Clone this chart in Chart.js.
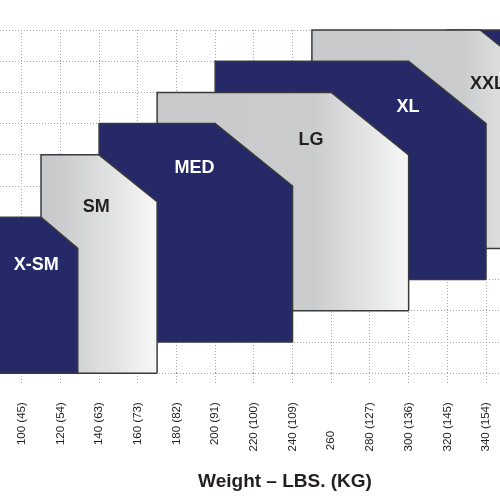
<!DOCTYPE html>
<html><head><meta charset="utf-8">
<script src="https://cdn.jsdelivr.net/npm/chart.js@4/dist/chart.umd.min.js"></script>
<style>
html,body{margin:0;padding:0;overflow:hidden;background:#fff;width:500px;height:500px}
#wrap{position:absolute;left:0;top:0;width:570px;height:500px}
</style>
</head><body><div id="wrap"><canvas id="c"></canvas></div>
<script>
// ---- data (x in lbs, y in chart row units) ----
const sizes = ['X-SM','SM','MED','LG','XL','XXL','XXXL'];
const leftLbs = [80,110,140,170,200,250,320];
const topUnits = [5,7,8,9,10,11,11];
const chamferStartLbs = [110,140,200,260,300,337,400];
const chamferEndUnits = [4,5.5,6,7,8,9,9];
const rightLbs = [129,170,240,300,340,377,420];
const bottomUnits = [0,0,1,2,3,4,5];
const labelLbs = [107.5,138.6,189.3,249.5,299.7,340.7,null];
const labelUnits = [3.47,5.33,6.57,7.48,8.52,9.27,null];
const tickLbs = [100,120,140,160,180,200,220,240,260,280,300,320,340];
const tickLabels = ['100 (45)','120 (54)','140 (63)','160 (73)','180 (82)','200 (91)','220 (100)','240 (109)','260','280 (127)','300 (136)','320 (145)','340 (154)'];
const axisTitle = 'Weight – LBS. (KG)';

const NAVY = '#262968', GRAY = '#c8c9cb', EDGE = '#3a3a3c', GRID = '#a4a4a4';
const FONT = '"Liberation Sans", Arial, Helvetica, sans-serif';

function grayFill(i){
  return (c) => {
    const ch = c.chart, xs = ch.scales && ch.scales.x;
    if (!xs || !ch.chartArea) return GRAY;
    const x0 = xs.getPixelForValue(leftLbs[i]), x1 = xs.getPixelForValue(rightLbs[i]);
    const g = ch.ctx.createLinearGradient(x0, 0, x1, 0);
    g.addColorStop(0, GRAY);
    g.addColorStop(Math.max(0, 1 - 95 / (x1 - x0)), '#cbcccd');
    g.addColorStop(1, '#f7f7f7');
    return g;
  };
}

const datasets = [];
sizes.forEach((s, i) => {
  // bottom edge (drawn just after its shape)
  datasets.push({
    label: s + ' edge',
    data: [{x: leftLbs[i], y: bottomUnits[i]}, {x: rightLbs[i], y: bottomUnits[i]}],
    showLine: true, pointRadius: 0, borderColor: EDGE, borderWidth: 1.5, fill: false, clip: 4
  });
  datasets.push({
    label: s,
    data: [
      {x: leftLbs[i], y: bottomUnits[i]},
      {x: leftLbs[i], y: topUnits[i]},
      {x: chamferStartLbs[i], y: topUnits[i]},
      {x: rightLbs[i], y: chamferEndUnits[i]},
      {x: rightLbs[i], y: bottomUnits[i]}
    ],
    showLine: true, pointRadius: 0, tension: 0,
    borderColor: EDGE, borderWidth: 1.5,
    fill: {value: bottomUnits[i]},
    backgroundColor: i % 2 === 0 ? NAVY : grayFill(i),
    clip: 4
  });
});

const sizeLabels = {
  id: 'sizeLabels',
  afterDatasetsDraw(chart) {
    const {ctx, scales: {x, y}} = chart;
    ctx.save();
    ctx.font = 'bold 18px ' + FONT;
    ctx.textAlign = 'center';
    ctx.textBaseline = 'middle';
    sizes.forEach((s, i) => {
      if (labelLbs[i] == null) return;
      ctx.fillStyle = i % 2 === 0 ? '#ffffff' : '#231f20';
      ctx.fillText(s, x.getPixelForValue(labelLbs[i]), y.getPixelForValue(labelUnits[i]));
    });
    ctx.restore();
  }
};

new Chart(document.getElementById('c'), {
  type: 'scatter',
  data: {datasets},
  plugins: [sizeLabels],
  options: {
    responsive: true, maintainAspectRatio: false, animation: false, devicePixelRatio: 1,
    layout: {padding: {top: 30, left: 0, right: 0, bottom: 0}},
    plugins: {legend: {display: false}, tooltip: {enabled: false}},
    scales: {
      x: {
        type: 'linear', min: 88.8, max: 383.4,
        afterBuildTicks: (s) => { s.ticks = tickLbs.map(v => ({value: v})); },
        afterFit: (s) => { s.height = 126.8; },
        ticks: {
          autoSkip: false, minRotation: 90, maxRotation: 90, padding: 19,
          color: '#1e1e1e', font: {family: FONT, size: 11.5},
          callback: (v) => {
            const l = tickLabels[tickLbs.indexOf(v)];
            return l.includes('(') ? l : l + '\u2007\u2007\u2007\u2007 ';
          }
        },
        grid: {color: GRID, lineWidth: 1, tickLength: 10, tickColor: GRID, tickBorderDash: [1, 2]},
        border: {display: false, dash: [1, 2]},
        title: {display: true, text: axisTitle, color: '#231f20',
                font: {family: FONT, size: 19, weight: 'bold'}, padding: {top: 0, bottom: 7}}
      },
      y: {
        type: 'linear', min: 0, max: 11,
        afterFit: (s) => { s.width = 0; },
        ticks: {display: false, stepSize: 1},
        grid: {color: GRID, lineWidth: 1, drawTicks: false},
        border: {display: false, dash: [1, 2]}
      }
    }
  }
});
</script>
</body></html>
